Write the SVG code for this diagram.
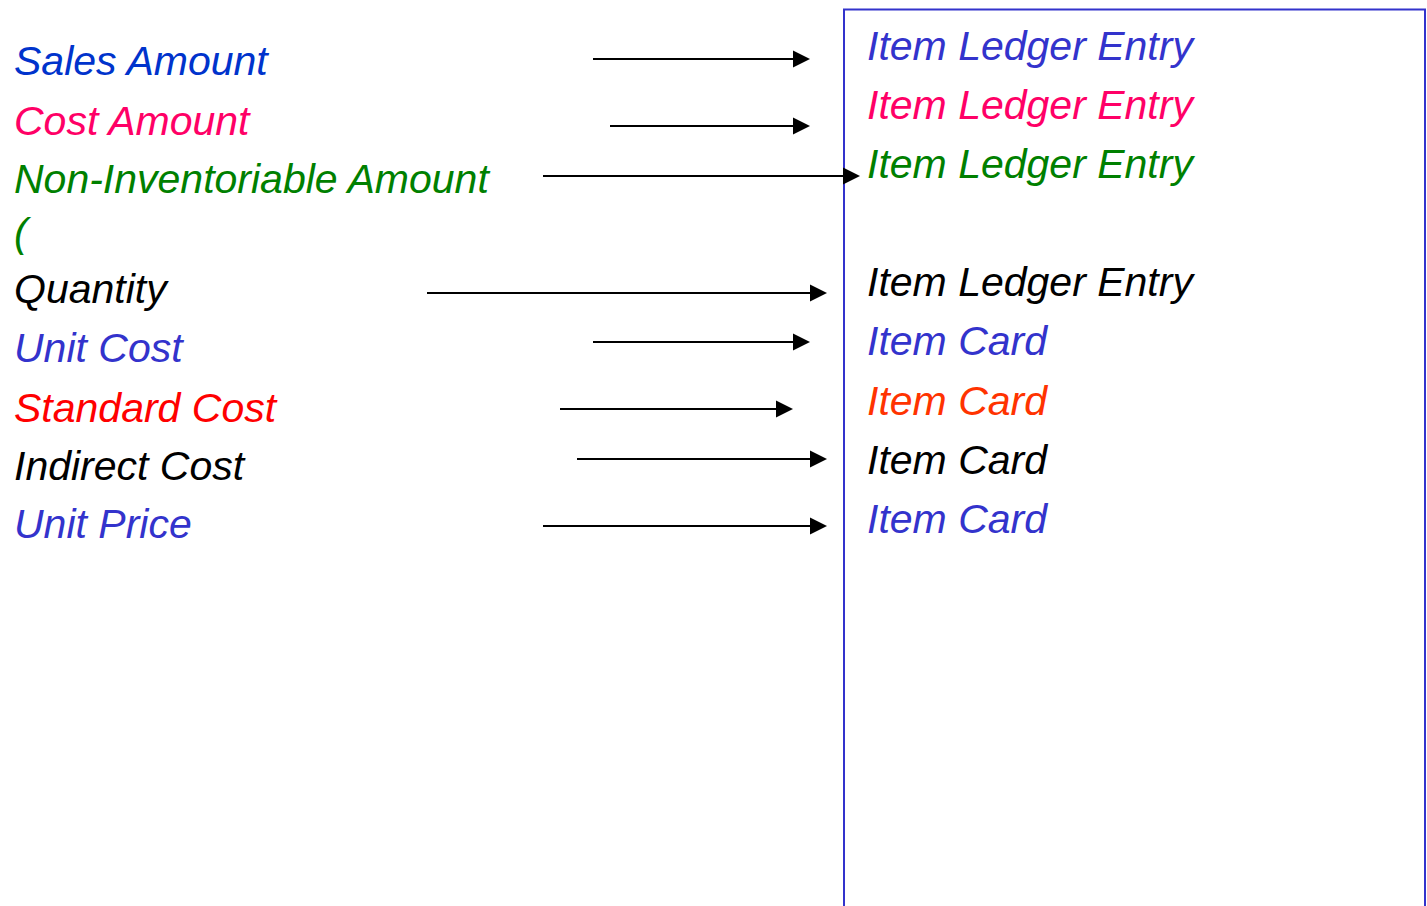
<svg xmlns="http://www.w3.org/2000/svg" width="1427" height="906" viewBox="0 0 1427 906">
<style>
text{font-family:"Liberation Sans",Arial,sans-serif;font-style:italic;font-size:41px}
.blue{fill:#3333CC}.dblue{fill:#0033CC}.pink{fill:#FF0066}.green{fill:#008000}.black{fill:#000}.red{fill:#FF0000}.orange{fill:#FF3300}
.arr{stroke:#000;stroke-width:2.2;fill:none;marker-end:url(#ah)}
</style>
<defs>
<marker id="ah" markerUnits="userSpaceOnUse" markerWidth="18" markerHeight="18" refX="0" refY="8.5" orient="auto" viewBox="0 0 18 17">
<path d="M0,0 L17,8.5 L0,17 z" fill="#000"/>
</marker>
</defs>
<rect id="box" x="844" y="9.5" width="581" height="920" fill="none" stroke="#3333CC" stroke-width="2"/>
<g id="left">
<g id="n-sales"><text class="dblue" x="14" y="75">Sales Amount</text></g>
<g id="n-cost"><text class="pink" x="14" y="135">Cost Amount</text></g>
<g id="n-noninv"><text class="green" x="14" y="193">Non-Inventoriable Amount</text></g>
<g id="n-paren"><text class="green" x="14" y="247">(</text></g>
<g id="n-qty"><text class="black" x="14" y="303">Quantity</text></g>
<g id="n-unitcost"><text class="blue" x="14" y="362">Unit Cost</text></g>
<g id="n-stdcost"><text class="red" x="14" y="422">Standard Cost</text></g>
<g id="n-indcost"><text class="black" x="14" y="480">Indirect Cost</text></g>
<g id="n-unitprice"><text class="blue" x="14" y="538">Unit Price</text></g>
</g>
<g id="right">
<g id="r1"><text class="blue" x="867" y="60">Item Ledger Entry</text></g>
<g id="r2"><text class="pink" x="867" y="119">Item Ledger Entry</text></g>
<g id="r3"><text class="green" x="867" y="178">Item Ledger Entry</text></g>
<g id="r4"><text class="black" x="867" y="296">Item Ledger Entry</text></g>
<g id="r5"><text class="blue" x="867" y="355">Item Card</text></g>
<g id="r6"><text class="orange" x="867" y="415">Item Card</text></g>
<g id="r7"><text class="black" x="867" y="474">Item Card</text></g>
<g id="r8"><text class="blue" x="867" y="533">Item Card</text></g>
</g>
<g id="connectors">
<line class="arr" x1="593" y1="59" x2="793" y2="59"/>
<line class="arr" x1="610" y1="126" x2="793" y2="126"/>
<line class="arr" x1="543" y1="176" x2="843" y2="176"/>
<line class="arr" x1="427" y1="293" x2="810" y2="293"/>
<line class="arr" x1="593" y1="342" x2="793" y2="342"/>
<line class="arr" x1="560" y1="409" x2="776" y2="409"/>
<line class="arr" x1="577" y1="459" x2="810" y2="459"/>
<line class="arr" x1="543" y1="526" x2="810" y2="526"/>
</g>
</svg>
